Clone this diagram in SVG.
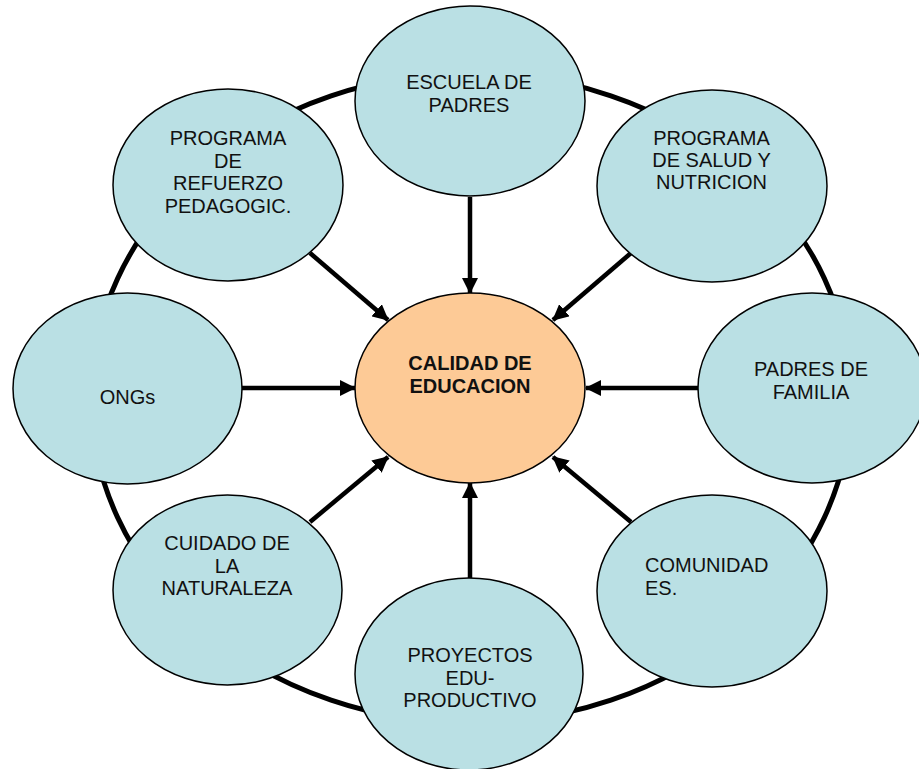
<svg xmlns="http://www.w3.org/2000/svg" width="919" height="769" viewBox="0 0 919 769">
<style>
.ring{fill:none;stroke:#000;stroke-width:5}
.node{fill:#BAE0E4;stroke:#000;stroke-width:1.5}
.core{fill:#FDCA96;stroke:#000;stroke-width:1.5}
.arrow{stroke:#000;stroke-width:4.5;fill:none;marker-end:url(#ah)}
text{font-family:"Liberation Sans",Arial,sans-serif;font-size:20px;fill:#111}
.c{text-anchor:middle}
.b{font-weight:bold}
</style>
<defs>
<marker id="ah" markerUnits="userSpaceOnUse" viewBox="0 0 16 16" markerWidth="16" markerHeight="16" refX="15" refY="8" orient="auto">
<path d="M0,0 L16,8 L0,16 Z" fill="#000"/>
</marker>
</defs>
<rect width="919" height="769" fill="#fff"/>
<ellipse class="ring" cx="471" cy="398" rx="380" ry="325"/>
<g id="connectors">
<line class="arrow" x1="470" y1="197" x2="470" y2="293"/>
<line class="arrow" x1="310" y1="253" x2="388" y2="320"/>
<line class="arrow" x1="631" y1="253" x2="553" y2="320"/>
<line class="arrow" x1="242" y1="388" x2="355" y2="388"/>
<line class="arrow" x1="698" y1="388" x2="586" y2="388"/>
<line class="arrow" x1="310" y1="522" x2="388" y2="457"/>
<line class="arrow" x1="631" y1="522" x2="553" y2="457"/>
<line class="arrow" x1="470" y1="578" x2="470" y2="483"/>
</g>
<g id="escuela">
<ellipse class="node" cx="470" cy="101" rx="115" ry="95"/>
<text class="c" x="469" y="89">ESCUELA DE</text>
<text class="c" x="469" y="112">PADRES</text>
</g>
<g id="refuerzo">
<ellipse class="node" cx="228" cy="185" rx="115" ry="96"/>
<text class="c" x="228" y="145">PROGRAMA</text>
<text class="c" x="228" y="167.7">DE</text>
<text class="c" x="228" y="190.4">REFUERZO</text>
<text class="c" x="228" y="213">PEDAGOGIC.</text>
</g>
<g id="salud">
<ellipse class="node" cx="712" cy="186" rx="115" ry="96"/>
<text class="c" x="711.5" y="145">PROGRAMA</text>
<text class="c" x="711.5" y="167">DE SALUD Y</text>
<text class="c" x="711.5" y="189">NUTRICION</text>
</g>
<g id="ongs">
<ellipse class="node" cx="127.5" cy="388.5" rx="114.5" ry="95.5"/>
<text class="c" x="127.5" y="404">ONGs</text>
</g>
<g id="calidad">
<ellipse class="core" cx="470" cy="388" rx="115" ry="95"/>
<text class="c b" x="470" y="370">CALIDAD DE</text>
<text class="c b" x="470" y="393">EDUCACION</text>
</g>
<g id="padres">
<ellipse class="node" cx="812" cy="388" rx="114" ry="95"/>
<text class="c" x="811" y="376">PADRES DE</text>
<text class="c" x="811" y="399">FAMILIA</text>
</g>
<g id="cuidado">
<ellipse class="node" cx="227.5" cy="590" rx="114.5" ry="95"/>
<text class="c" x="227" y="550">CUIDADO DE</text>
<text class="c" x="227" y="572.5">LA</text>
<text class="c" x="227" y="595">NATURALEZA</text>
</g>
<g id="comunidades">
<ellipse class="node" cx="712" cy="591" rx="115" ry="96"/>
<text x="645" y="572">COMUNIDAD</text>
<text x="645" y="595">ES.</text>
</g>
<g id="proyectos">
<ellipse class="node" cx="469" cy="674" rx="114" ry="96"/>
<text class="c" x="470" y="662">PROYECTOS</text>
<text class="c" x="470" y="684.5">EDU-</text>
<text class="c" x="470" y="707">PRODUCTIVO</text>
</g>
</svg>
